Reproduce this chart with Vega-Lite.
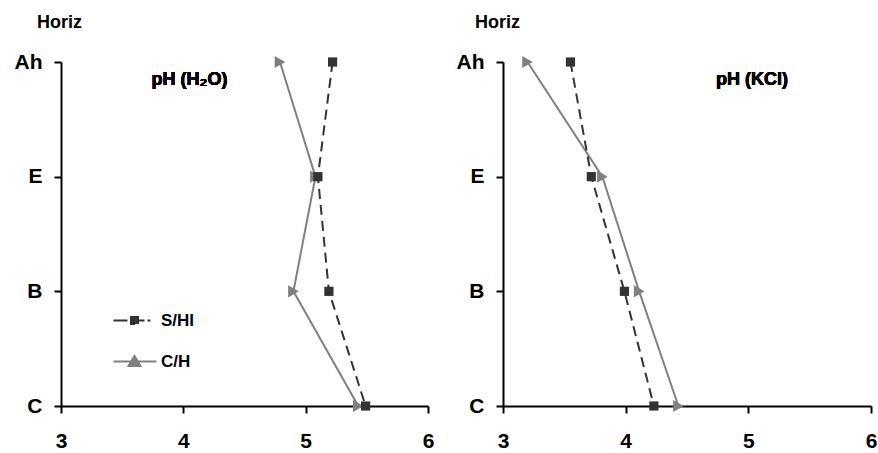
{
  "$schema": "https://vega.github.io/schema/vega-lite/v6.json",
  "padding": {"left": 14, "top": 13, "right": 0, "bottom": 0},
  "background": "white",
  "config": {
    "font": "Liberation Sans",
    "view": {"stroke": null},
    "axis": {
      "labelFont": "Liberation Sans", "labelFontWeight": "bold", "labelFontSize": 21, "labelColor": "black", "labelFlush": false,
      "domainColor": "black", "domainWidth": 2, "tickColor": "black", "tickWidth": 2, "tickSize": 7,
      "grid": false, "titleFont": "Liberation Sans", "titleFontWeight": "bold", "titleFontSize": 18, "titleColor": "black"
    },
    "legend": {
      "orient": "none", "legendX": 65, "legendY": 250, "padding": 0,
      "labelFont": "Liberation Sans", "labelFontWeight": "bold", "labelFontSize": 17, "labelColor": "black",
      "labelOffset": 18, "rowPadding": 23, "symbolSize": 100, "symbolStrokeWidth": 2, "symbolOpacity": 1, "title": null
    }
  },
  "datasets": {
    "h2o": [
      {"horizon": "Ah", "series": "S/HI", "pH": 5.22},
      {"horizon": "E", "series": "S/HI", "pH": 5.10},
      {"horizon": "B", "series": "S/HI", "pH": 5.19},
      {"horizon": "C", "series": "S/HI", "pH": 5.49},
      {"horizon": "Ah", "series": "C/H", "pH": 4.79},
      {"horizon": "E", "series": "C/H", "pH": 5.08},
      {"horizon": "B", "series": "C/H", "pH": 4.90},
      {"horizon": "C", "series": "C/H", "pH": 5.43}
    ],
    "kcl": [
      {"horizon": "Ah", "series": "S/HI", "pH": 3.55},
      {"horizon": "E", "series": "S/HI", "pH": 3.72},
      {"horizon": "B", "series": "S/HI", "pH": 3.99},
      {"horizon": "C", "series": "S/HI", "pH": 4.23},
      {"horizon": "Ah", "series": "C/H", "pH": 3.20},
      {"horizon": "E", "series": "C/H", "pH": 3.81},
      {"horizon": "B", "series": "C/H", "pH": 4.11},
      {"horizon": "C", "series": "C/H", "pH": 4.43}
    ]
  },
  "spacing": 22,
  "hconcat": [
    {
      "width": 367, "height": 344,
      "data": {"name": "h2o"},
      "encoding": {
        "x": {"field": "pH", "type": "quantitative", "scale": {"domain": [3, 6], "nice": false, "zero": false},
              "axis": {"values": [3, 4, 5, 6], "title": null, "labelPadding": 17, "format": "d"}},
        "y": {"field": "horizon", "type": "ordinal", "sort": ["Ah", "E", "B", "C"], "scale": {"type": "point", "padding": 0},
              "axis": {"title": "Horiz", "titleAngle": 0, "titleX": -2, "titleY": -40, "titleAlign": "center", "titleBaseline": "middle", "labelPadding": 12}}
      },
      "layer": [
        {"transform": [{"filter": "datum.series === 'C/H'"}],
         "mark": {"type": "line", "orient": "horizontal", "color": "#808080", "strokeWidth": 2}},
        {"transform": [{"filter": "datum.series === 'S/HI'"}],
         "mark": {"type": "line", "orient": "horizontal", "color": "#333333", "strokeWidth": 2, "strokeDash": [10, 6]}},
        {"transform": [{"filter": "datum.series === 'C/H'"}],
         "mark": {"type": "point", "shape": "triangle-right", "filled": true, "color": "#808080", "size": 150, "opacity": 1}},
        {"transform": [{"filter": "datum.series === 'S/HI'"}],
         "mark": {"type": "point", "shape": "square", "filled": true, "color": "#333333", "size": 85, "opacity": 1}},
        {"mark": {"type": "text", "text": "pH (H₂O)", "fontSize": 18, "fontWeight": "bold", "color": "black", "align": "center", "baseline": "middle", "dy": 18},
         "encoding": {"x": {"datum": 4.05}, "y": {"datum": "Ah"}}},
        {"transform": [{"filter": "false"}],
         "mark": {"type": "point", "filled": true, "opacity": 1},
         "encoding": {
           "x": null, "y": null,
           "fill": {"field": "series", "type": "nominal", "scale": {"domain": ["S/HI", "C/H"], "range": ["#333333", "#808080"]}},
           "stroke": {"field": "series", "type": "nominal", "scale": {"domain": ["S/HI", "C/H"], "range": ["#333333", "#808080"]}},
           "shape": {"field": "series", "type": "nominal", "scale": {"domain": ["S/HI", "C/H"], "range": ["M-4.2,0H3.2M-0.7,-0.7H0.7V0.7H-0.7Z", "M-4.2,0H4.4M0,-1.1L1.2,0.9H-1.2Z"]}},
           "strokeDash": {"field": "series", "type": "nominal", "scale": {"domain": ["S/HI", "C/H"], "range": [[14, 3], [1, 0]]}}
         }}
      ]
    },
    {
      "width": 368, "height": 344,
      "data": {"name": "kcl"},
      "encoding": {
        "x": {"field": "pH", "type": "quantitative", "scale": {"domain": [3, 6], "nice": false, "zero": false},
              "axis": {"values": [3, 4, 5, 6], "title": null, "labelPadding": 17, "format": "d"}},
        "y": {"field": "horizon", "type": "ordinal", "sort": ["Ah", "E", "B", "C"], "scale": {"type": "point", "padding": 0},
              "axis": {"title": "Horiz", "titleAngle": 0, "titleX": -6, "titleY": -40, "titleAlign": "center", "titleBaseline": "middle", "labelPadding": 12}}
      },
      "layer": [
        {"transform": [{"filter": "datum.series === 'C/H'"}],
         "mark": {"type": "line", "orient": "horizontal", "color": "#808080", "strokeWidth": 2}},
        {"transform": [{"filter": "datum.series === 'S/HI'"}],
         "mark": {"type": "line", "orient": "horizontal", "color": "#333333", "strokeWidth": 2, "strokeDash": [10, 6]}},
        {"transform": [{"filter": "datum.series === 'C/H'"}],
         "mark": {"type": "point", "shape": "triangle-right", "filled": true, "color": "#808080", "size": 150, "opacity": 1}},
        {"transform": [{"filter": "datum.series === 'S/HI'"}],
         "mark": {"type": "point", "shape": "square", "filled": true, "color": "#333333", "size": 85, "opacity": 1}},
        {"mark": {"type": "text", "text": "pH (KCl)", "fontSize": 18, "fontWeight": "bold", "color": "black", "align": "center", "baseline": "middle", "dy": 18},
         "encoding": {"x": {"datum": 5.03}, "y": {"datum": "Ah"}}}
      ]
    }
  ]
}
